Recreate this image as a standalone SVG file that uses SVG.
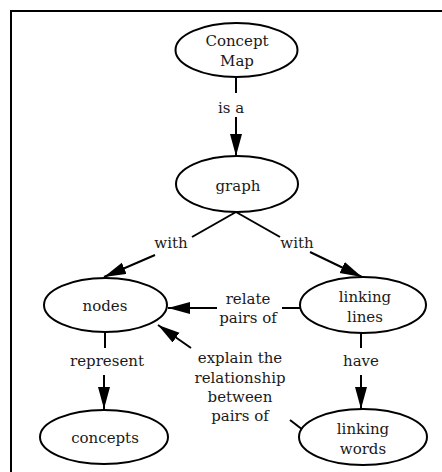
<svg xmlns="http://www.w3.org/2000/svg" width="442" height="472" viewBox="0 0 442 472">
<defs>
<style>
.n{fill:#fff;stroke:#000;stroke-width:2}
.t{font-family:"DejaVu Serif","Liberation Serif",serif;font-size:15px;fill:#1a1a1a;text-anchor:middle}
.c{stroke:#000;stroke-width:2;fill:none}
.a{marker-end:url(#ah)}
</style>
<marker id="ah" markerUnits="userSpaceOnUse" markerWidth="24" markerHeight="14" refX="22" refY="6" orient="auto">
<path d="M0,0 L22,6 L0,12 z" fill="#000"/>
</marker>
</defs>
<rect width="442" height="472" fill="#fff"/>
<path d="M11,472 V11 H442" fill="none" stroke="#000" stroke-width="2"/>
<g id="connectors">
<line class="c" x1="236" y1="77" x2="236" y2="93"/>
<line class="c a" x1="236" y1="117" x2="236" y2="156"/>
<line class="c" x1="236" y1="212" x2="192" y2="237"/>
<line class="c a" x1="155" y1="255" x2="104" y2="277"/>
<line class="c" x1="236" y1="212" x2="280" y2="237"/>
<line class="c a" x1="310" y1="252" x2="362" y2="277"/>
<line class="c" x1="300" y1="308" x2="282" y2="308"/>
<line class="c a" x1="217" y1="308" x2="168" y2="308"/>
<line class="c" x1="105" y1="332" x2="105" y2="348"/>
<line class="c a" x1="104" y1="375" x2="104" y2="409"/>
<line class="c" x1="361" y1="333" x2="361" y2="348"/>
<line class="c a" x1="361" y1="375" x2="361" y2="409"/>
<line class="c" x1="303" y1="430" x2="290" y2="420"/>
<line class="c a" x1="191" y1="348" x2="158" y2="325"/>
<text class="t" x="231" y="113">is a</text>
<text class="t" x="171" y="248">with</text>
<text class="t" x="297" y="248">with</text>
<text class="t" x="248" y="304">relate</text>
<text class="t" x="248" y="323">pairs of</text>
<text class="t" x="107" y="366">represent</text>
<text class="t" x="361" y="366">have</text>
<text class="t" x="240" y="363">explain the</text>
<text class="t" x="240" y="383">relationship</text>
<text class="t" x="240" y="402">between</text>
<text class="t" x="240" y="421">pairs of</text>
</g>
<g id="concept-map">
<ellipse class="n" cx="236.5" cy="50" rx="61" ry="27"/>
<text class="t" x="237" y="46">Concept</text>
<text class="t" x="237" y="66">Map</text>
</g>
<g id="graph">
<ellipse class="n" cx="237" cy="184" rx="61" ry="28"/>
<text class="t" x="238" y="191">graph</text>
</g>
<g id="nodes">
<ellipse class="n" cx="105.5" cy="305" rx="61.5" ry="27"/>
<text class="t" x="105" y="311">nodes</text>
</g>
<g id="linking-lines">
<ellipse class="n" cx="363" cy="305" rx="63" ry="28"/>
<text class="t" x="365" y="302">linking</text>
<text class="t" x="365" y="322">lines</text>
</g>
<g id="concepts">
<ellipse class="n" cx="104" cy="437" rx="64" ry="27"/>
<text class="t" x="105" y="443">concepts</text>
</g>
<g id="linking-words">
<ellipse class="n" cx="363" cy="437" rx="64" ry="28"/>
<text class="t" x="363" y="434">linking</text>
<text class="t" x="363" y="454">words</text>
</g>
</svg>
